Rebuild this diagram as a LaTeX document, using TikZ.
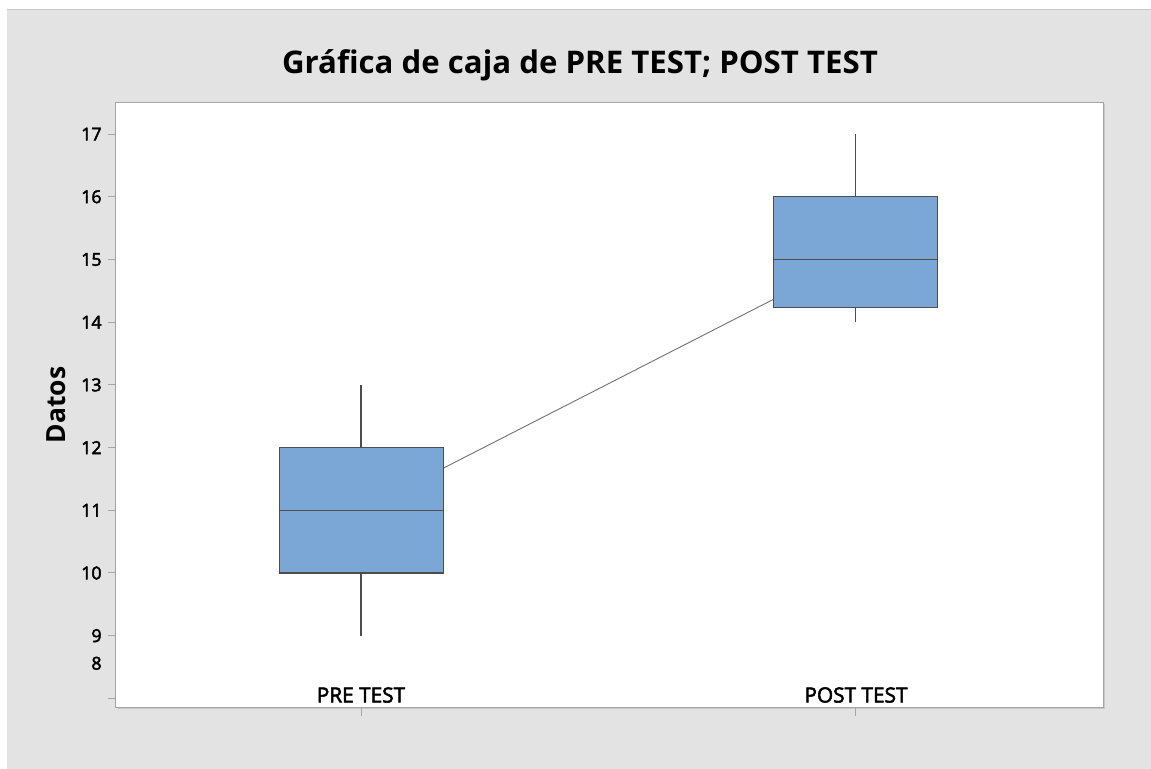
\documentclass[tikz,border=0pt]{standalone}
\usepackage{fontspec}
\setmainfont{Open Sans}
\newfontfamily\semibold[FakeBold=2.6]{Open Sans}
\usetikzlibrary{positioning}
\definecolor{bgGray}{RGB}{227,227,227}
\definecolor{boxBlue}{RGB}{123,167,215}
\definecolor{boxEdge}{RGB}{77,77,77}
\definecolor{frameGray}{RGB}{165,165,165}
\definecolor{shadeGray}{RGB}{200,200,200}
\tikzset{
  ticklabel/.style={anchor=east, inner sep=0pt, font=\semibold\fontsize{8.9}{10}\selectfont},
  catlabel/.style={inner sep=0pt, font=\semibold\fontsize{10.4}{12}\selectfont},
  tickline/.style={frameGray, line width=0.5pt},
  boxstyle/.style={draw=boxEdge, fill=boxBlue, line width=0.6pt},
  meanline/.style={draw=boxEdge!80, line width=0.45pt}
}

\begin{document}
\begin{tikzpicture}[x=0.5pt,y=-0.5pt]
                \useasboundingbox (0,0) rectangle (1151,769);
                \fill[white] (0,0) rectangle (1151,769);
                \fill[bgGray] (7,9) rectangle (1151,769);
                \draw[shadeGray, line width=0.8pt] (7,9.5) -- (1151,9.5);
                % plot area
                \fill[shadeGray] (117.5,104.5) rectangle (1105,709);
                \draw[frameGray, fill=white, line width=0.5pt] (115.7,103) rectangle (1103.3,707.3);
                \node[font=\bfseries\fontsize{15.6}{18}\selectfont, inner sep=0pt] (title) at (580,65) {Gráfica de caja de PRE TEST; POST TEST};
                \node[font=\bfseries\fontsize{13.2}{16}\selectfont, rotate=90, inner sep=0pt] (ytitle) at (56,405) {Datos};
                % data scope: y in data units
                \begin{scope}[shift={(0,1200)}, y=31.35pt]
                    \foreach \v in {9,...,17} {
                        \draw[tickline] (108,\v) -- (115.7,\v);
                        \node[ticklabel] (ylab\v) at (102,\v) {\v};
                    }
                    \draw[tickline] (108,8) -- (115.7,8);
                    \node[ticklabel] (ylab8) at (102,8.56) {8};
                    \coordinate (premean) at (361,11);
                    \coordinate (postmean) at (855,15.03);
                    \draw[meanline] (premean) -- (postmean);
                    % PRE TEST
                    \draw[boxEdge, line width=0.6pt] (361,9) -- (361,13);
                    \draw[boxstyle] (279.3,10) rectangle (443.3,12);
                    \draw[boxEdge, line width=0.6pt] (279.3,11) -- (443.3,11);
                    % POST TEST
                    \draw[boxEdge, line width=0.6pt] (855.3,14) -- (855.3,17);
                    \draw[boxstyle] (773.3,14.24) rectangle (937.3,16);
                    \draw[boxEdge, line width=0.6pt] (773.3,15) -- (937.3,15);
                \end{scope}
                \draw[tickline] (361,707.3) -- (361,716);
                \draw[tickline] (855.3,707.3) -- (855.3,716);
                \node[catlabel] (pre) at (361,695) {PRE TEST};
                \node[catlabel] (post) at (856,695) {POST TEST};
            \end{tikzpicture}
\end{document}
